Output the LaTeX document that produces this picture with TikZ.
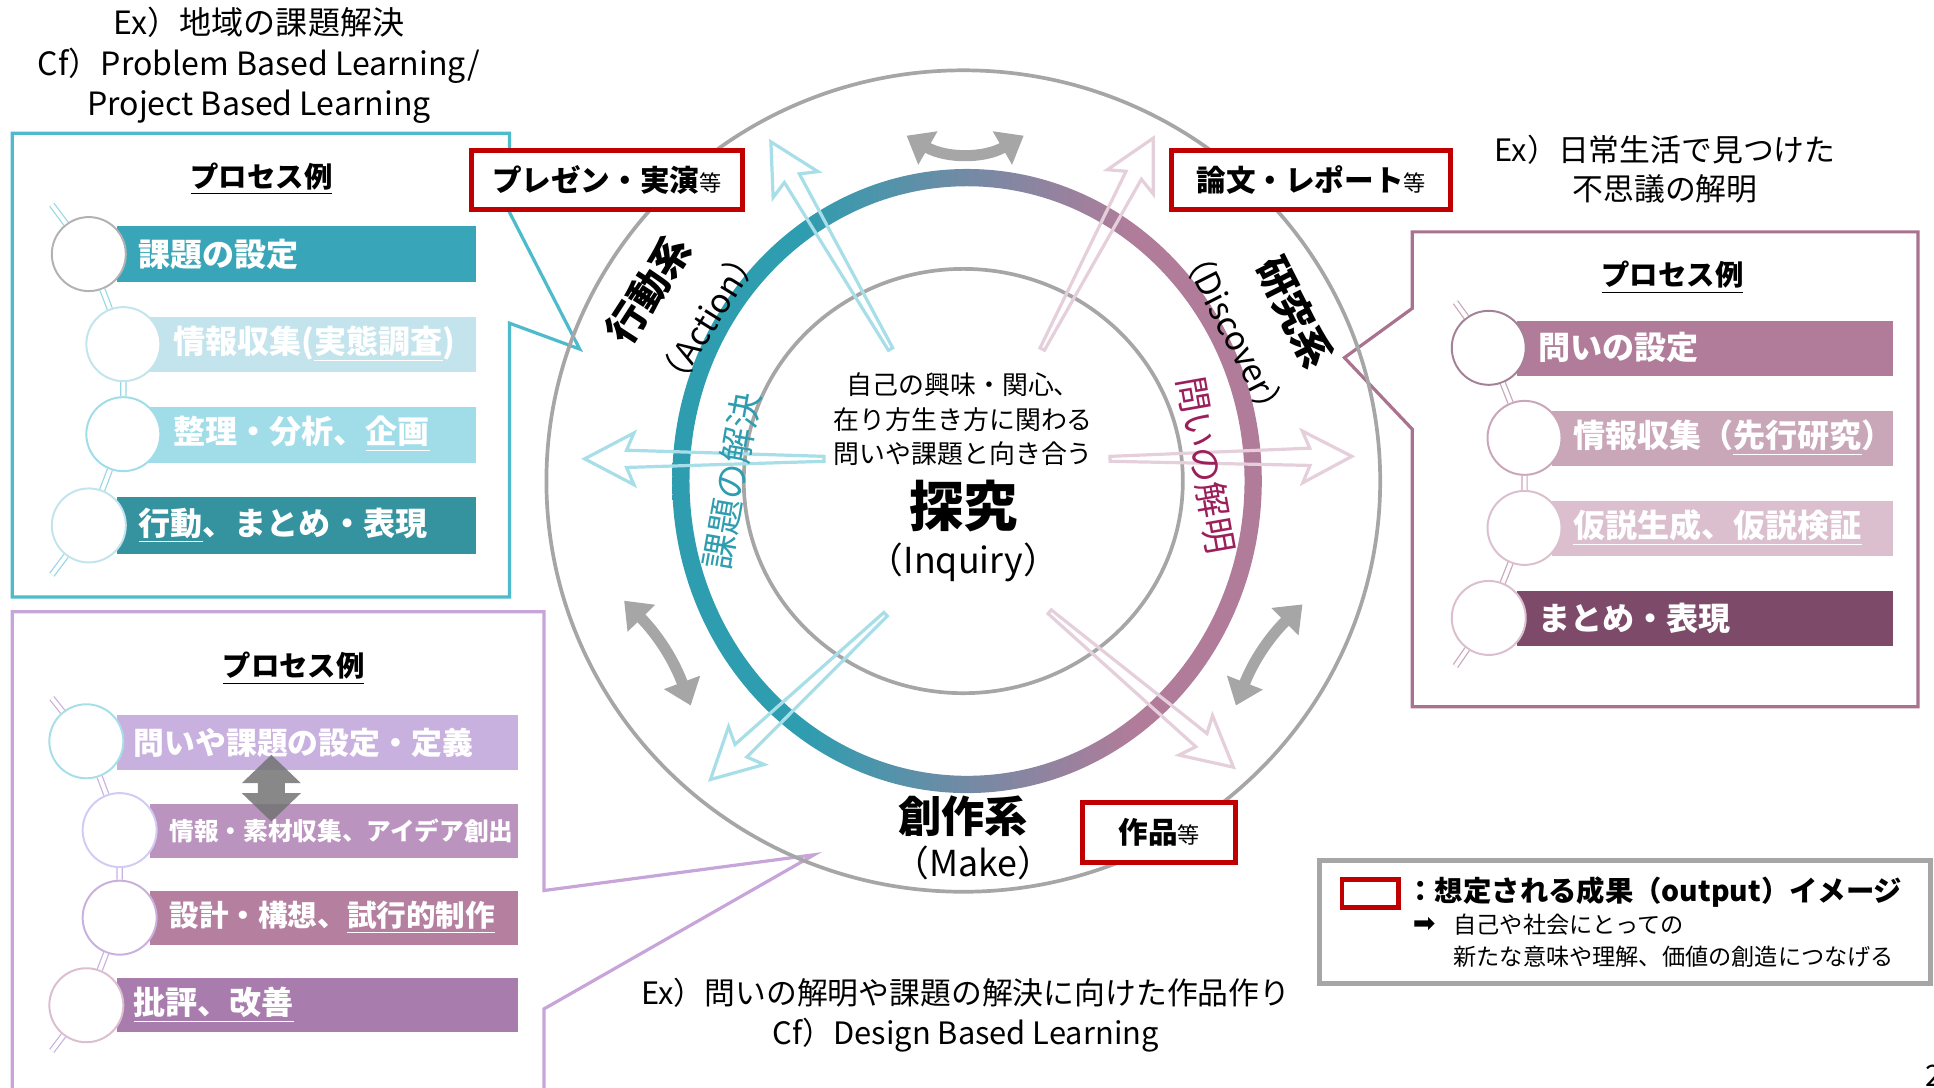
\documentclass[tikz,border=0pt]{standalone}
\usepackage{fontspec}
\setmainfont{Noto Sans CJK JP}
\newfontfamily\symfont{DejaVu Sans}
\usetikzlibrary{calc,arrows.meta}

\definecolor{tealframe}{RGB}{77,187,203}
\definecolor{tealA}{RGB}{56,166,184}
\definecolor{tealB}{RGB}{195,228,236}
\definecolor{tealC}{RGB}{160,221,232}
\definecolor{tealD}{RGB}{53,146,159}
\definecolor{tealline}{RGB}{150,215,228}
\definecolor{purpframe}{RGB}{199,165,217}
\definecolor{purpA}{RGB}{201,177,223}
\definecolor{purpB}{RGB}{186,147,190}
\definecolor{purpC}{RGB}{181,127,159}
\definecolor{purpD}{RGB}{169,124,174}
\definecolor{mauveframe}{RGB}{169,114,143}
\definecolor{mauveA}{RGB}{176,124,154}
\definecolor{mauveB}{RGB}{201,166,184}
\definecolor{mauveC}{RGB}{219,191,206}
\definecolor{mauveD}{RGB}{125,75,105}
\definecolor{outred}{RGB}{192,0,0}
\definecolor{ringgrey}{RGB}{166,166,166}
\definecolor{ringteal}{RGB}{46,157,175}
\definecolor{ringmid}{RGB}{115,138,165}
\definecolor{ringmauve}{RGB}{176,124,154}
\definecolor{lightteal}{RGB}{168,222,231}
\definecolor{lightmauve}{RGB}{229,207,219}
\definecolor{wine}{RGB}{155,31,90}

\pgfdeclarehorizontalshading{ringshade}{100bp}{color(0bp)=(ringteal); color(36bp)=(ringteal); color(50bp)=(ringmid); color(64bp)=(ringmauve); color(100bp)=(ringmauve)}

\tikzset{
  frameline/.style={draw=#1, line width=1.3pt, line join=miter},
  proctitle/.style={inner sep=0pt, font=\fontsize{11.5}{14}\selectfont\bfseries},
  bartext/.style={anchor=west, text=white, inner sep=0pt, font=\fontsize{13}{16}\selectfont\bfseries},
  stepdot/.style={circle, draw=#1, fill=white, line width=0.8pt, minimum size=30pt, inner sep=0pt},
  tline/.style={draw=#1, line width=0.5pt, double=white, double distance=1.6pt},
  outbox/.style={draw=outred, line width=2pt, fill=white, inner sep=0pt, font=\fontsize{12}{14}\selectfont\bfseries},
  note/.style={align=center, inner sep=0pt, font=\fontsize{13}{16.5}\selectfont},
  greyarc/.style={draw=ringgrey, line width=4.5pt, arrows={Triangle[length=10pt,width=15pt]-Triangle[length=10pt,width=15pt]}},
  hollow/.style={draw=#1, line width=1.3pt, line join=miter},
  kei/.style={inner sep=0pt, font=\fontsize{16}{19}\selectfont\bfseries},
  keien/.style={inner sep=0pt, font=\fontsize{13.5}{16}\selectfont}
}

% open arrow from #2 to #3
\newcommand\hollowarrow[3]{%
  \draw[hollow=#1] ($(#2)!1pt!90:(#3)$) -- ($(#3)!17pt!(#2)!3.5pt!-90:(#2)$)
    -- ($(#3)!20pt!(#2)!10.5pt!-90:(#2)$) -- (#3) -- ($(#3)!20pt!(#2)!10.5pt!90:(#2)$)
    -- ($(#3)!17pt!(#2)!3.5pt!90:(#2)$) -- ($(#2)!1pt!-90:(#3)$) -- cycle;}

\begin{document}
\begin{tikzpicture}[x=0.5pt,y=0.5pt,yscale=-1]
\useasboundingbox (0,0) rectangle (1568,882);
\clip (0,0) rectangle (1568,882);

% callout frames
\draw[frameline=tealframe] (10,108) -- (413,108) -- (413,172) -- (470,283) -- (413,262) -- (413,484) -- (10,484) -- cycle;
\draw[frameline=purpframe] (10,496) -- (441,496) -- (441,722) -- (660,693) -- (441,818) -- (441,900) -- (10,900) -- cycle;
\draw[frameline=mauveframe] (1145,188) -- (1555,188) -- (1555,573) -- (1145,573) -- (1145,348) -- (1090,290) -- (1145,250) -- cycle;

% notes
\node[note] (exleft) at (210,53) {Ex）地域の課題解決\\Cf）Problem Based Learning/\\Project Based Learning};
\node[note, font=\fontsize{12.5}{16}\selectfont] (exright) at (1350,137) {Ex）日常生活で見つけた\\不思議の解明};
\node[note, font=\fontsize{12.5}{16.5}\selectfont] (exbottom) at (783,823) {Ex）問いの解明や課題の解決に向けた作品作り\\Cf）Design Based Learning};

% action box
\node[proctitle] (ttl1) at (212,145) {\underline{プロセス例}};
\fill[tealA] (95,183) rectangle (386,229);
\fill[tealB] (120,257) rectangle (386,302);
\fill[tealC] (120,330) rectangle (386,375);
\fill[tealD] (95,403) rectangle (386,449);
\node[stepdot=black!30] (a1) at (72,206) {};
\node[stepdot=tealB] (a2) at (100,279) {};
\node[stepdot=tealC] (a3) at (100,352) {};
\node[stepdot=tealB] (a4) at (72,426) {};
\coordinate (as) at (42,166);
\coordinate (ae) at (42,466);
\draw[tline=tealline] (as) -- (a1) -- (a2) -- (a3) -- (a4) -- (ae);
\node[bartext] (ta1) at (112,206) {課題の設定};
\node[bartext] (ta2) at (140,279) {情報収集(\underline{実態調査})};
\node[bartext] (ta3) at (140,352) {整理・分析、\underline{企画}};
\node[bartext] (ta4) at (112,426) {\underline{行動}、まとめ・表現};

% make box
\node[proctitle] (ttl2) at (238,542) {\underline{プロセス例}};
\fill[purpA] (95,580) rectangle (420,624);
\fill[purpB] (122,652) rectangle (420,696);
\fill[purpC] (122,722) rectangle (420,766);
\fill[purpD] (95,793) rectangle (420,837);
\node[stepdot=lightteal] (m1) at (70,601) {};
\node[stepdot=purpA!70!blue!40] (m2) at (97,673) {};
\node[stepdot=purpA] (m3) at (97,744) {};
\node[stepdot=mauveC] (m4) at (70,815) {};
\coordinate (ms) at (42,566);
\coordinate (me) at (42,852);
\draw[tline=purpA] (ms) -- (m1) -- (m2) -- (m3) -- (m4) -- (me);
\node[bartext, font=\fontsize{12.5}{16}\selectfont\bfseries] (tm1) at (108,602) {問いや課題の設定・定義};
\node[bartext, font=\fontsize{10}{12}\selectfont\bfseries] (tm2) at (137,674) {情報・素材収集、アイデア創出};
\node[bartext, font=\fontsize{12}{15}\selectfont\bfseries] (tm3) at (137,744) {設計・構想、\underline{試行的制作}};
\node[bartext] (tm4) at (108,815) {\underline{批評、改善}};
\fill[black!55, opacity=0.85] (220,612) -- (244,635) -- (231,635) -- (231,643) -- (244,643) -- (220,666) -- (196,643) -- (209,643) -- (209,635) -- (196,635) -- cycle;

% discover box
\node[proctitle] (ttl3) at (1356,225) {\underline{プロセス例}};
\fill[mauveA] (1230,260) rectangle (1535,305);
\fill[mauveB] (1258,333) rectangle (1535,378);
\fill[mauveC] (1258,406) rectangle (1535,451);
\fill[mauveD] (1230,479) rectangle (1535,524);
\node[stepdot=mauveD!70] (d1) at (1207,282) {};
\node[stepdot=mauveB] (d2) at (1236,355) {};
\node[stepdot=mauveC] (d3) at (1236,428) {};
\node[stepdot=mauveC] (d4) at (1207,501) {};
\coordinate (ds) at (1180,245);
\coordinate (de) at (1180,540);
\draw[tline=mauveB] (ds) -- (d1) -- (d2) -- (d3) -- (d4) -- (de);
\node[bartext] (td1) at (1247,282) {問いの設定};
\node[bartext] (td2) at (1275,355) {情報収集（\underline{先行研究}）};
\node[bartext] (td3) at (1275,428) {\underline{仮説生成、仮説検証}};
\node[bartext] (td4) at (1247,501) {まとめ・表現};

% rings
\draw[ringgrey, line width=1.5pt] (781,390) ellipse [x radius=338, y radius=333];
\draw[ringgrey, line width=1.5pt] (781,390) ellipse [x radius=178, y radius=172];
\shade[shading=ringshade, even odd rule] (784,390) ellipse [x radius=239, y radius=253] (784,390) ellipse [x radius=225, y radius=239];

% open arrows from the centre
\coordinate (ul0) at (722,283); \coordinate (ul1) at (625,115);
\coordinate (l0) at (668,372);  \coordinate (l1) at (474,372);
\coordinate (dl0) at (718,498); \coordinate (dl1) at (576,632);
\coordinate (ur0) at (845,283); \coordinate (ur1) at (935,112);
\coordinate (r0) at (900,372);  \coordinate (r1) at (1096,370);
\coordinate (dr0) at (851,496); \coordinate (dr1) at (1000,622);
\hollowarrow{lightteal}{ul0}{ul1}
\hollowarrow{lightteal}{l0}{l1}
\hollowarrow{lightteal}{dl0}{dl1}
\hollowarrow{lightmauve}{ur0}{ur1}
\hollowarrow{lightmauve}{r0}{r1}
\hollowarrow{lightmauve}{dr0}{dr1}

% grey swap arrows
\coordinate (gt0) at (735,110); \coordinate (gt1) at (830,110);
\coordinate (gl0) at (506,487); \coordinate (gl1) at (560,572);
\coordinate (gr0) at (1056,490); \coordinate (gr1) at (1002,572);
\draw[greyarc] (gt0) to[bend left=30] (gt1);
\draw[greyarc] (gl0) to[bend right=12] (gl1);
\draw[greyarc] (gr0) to[bend left=12] (gr1);

% centre
\node[note, font=\fontsize{10.5}{14}\selectfont] (core) at (781,340) {自己の興味・関心、\\在り方生き方に関わる\\問いや課題と向き合う};
\node[inner sep=0pt, font=\fontsize{22}{26}\selectfont\bfseries] (tankyu) at (781,410) {探究};
\node[inner sep=0pt, font=\fontsize{14.5}{17}\selectfont] (inquiry) at (781,456) {（Inquiry）};

% ring labels
\node[kei, rotate=57] (kodo) at (526,235) {行動系};
\node[keien, rotate=58] (action) at (574,258) {（Action）};
\node[kei, rotate=-63] (kenkyu) at (1050,253) {研究系};
\node[keien, rotate=-63] (discover) at (1001,270) {（Discover）};
\node[rotate=80, inner sep=0pt, text=ringteal, font=\fontsize{14.5}{17}\selectfont] (kaiketsu) at (593,390) {課題の解決};
\node[rotate=-80, inner sep=0pt, text=wine, font=\fontsize{14.5}{17}\selectfont] (kaimei) at (978,377) {問いの解明};
\node[kei, font=\fontsize{17.5}{20}\selectfont\bfseries] (sosaku) at (781,662) {創作系};
\node[keien, font=\fontsize{14.5}{17}\selectfont] (make) at (789,700) {（Make）};

% outputs
\node[outbox, minimum width=110pt, minimum height=24pt] (pres) at (492,146) {プレゼン・実演{\fontsize{9}{10}\selectfont\mdseries 等}};
\node[outbox, minimum width=113pt, minimum height=24pt] (paper) at (1063,146) {論文・レポート{\fontsize{9}{10}\selectfont\mdseries 等}};
\node[outbox, minimum width=62pt, minimum height=24pt] (work) at (940,675) {作品{\fontsize{9}{10}\selectfont\mdseries 等}};

% legend
\draw[ringgrey, line width=2pt] (1070,698) rectangle (1565,797);
\draw[outred, line width=2pt] (1088,713) rectangle (1134,736);
\node[anchor=west, inner sep=0pt, font=\fontsize{11.5}{14}\selectfont\bfseries] (legend) at (1140,723) {：想定される成果（output）イメージ};
\node[anchor=west, inner sep=0pt, font=\fontsize{11}{12}\symfont] (legarrow) at (1145,750) {➡};
\node[anchor=west, align=left, inner sep=0pt, font=\fontsize{9.4}{13}\selectfont] (legtext) at (1178,763) {自己や社会にとっての\\新たな意味や理解、価値の創造につなげる};

\node[anchor=west, inner sep=0pt, font=\fontsize{12}{14}\selectfont] (pageno) at (1561,872) {2};
\end{tikzpicture}
\end{document}
